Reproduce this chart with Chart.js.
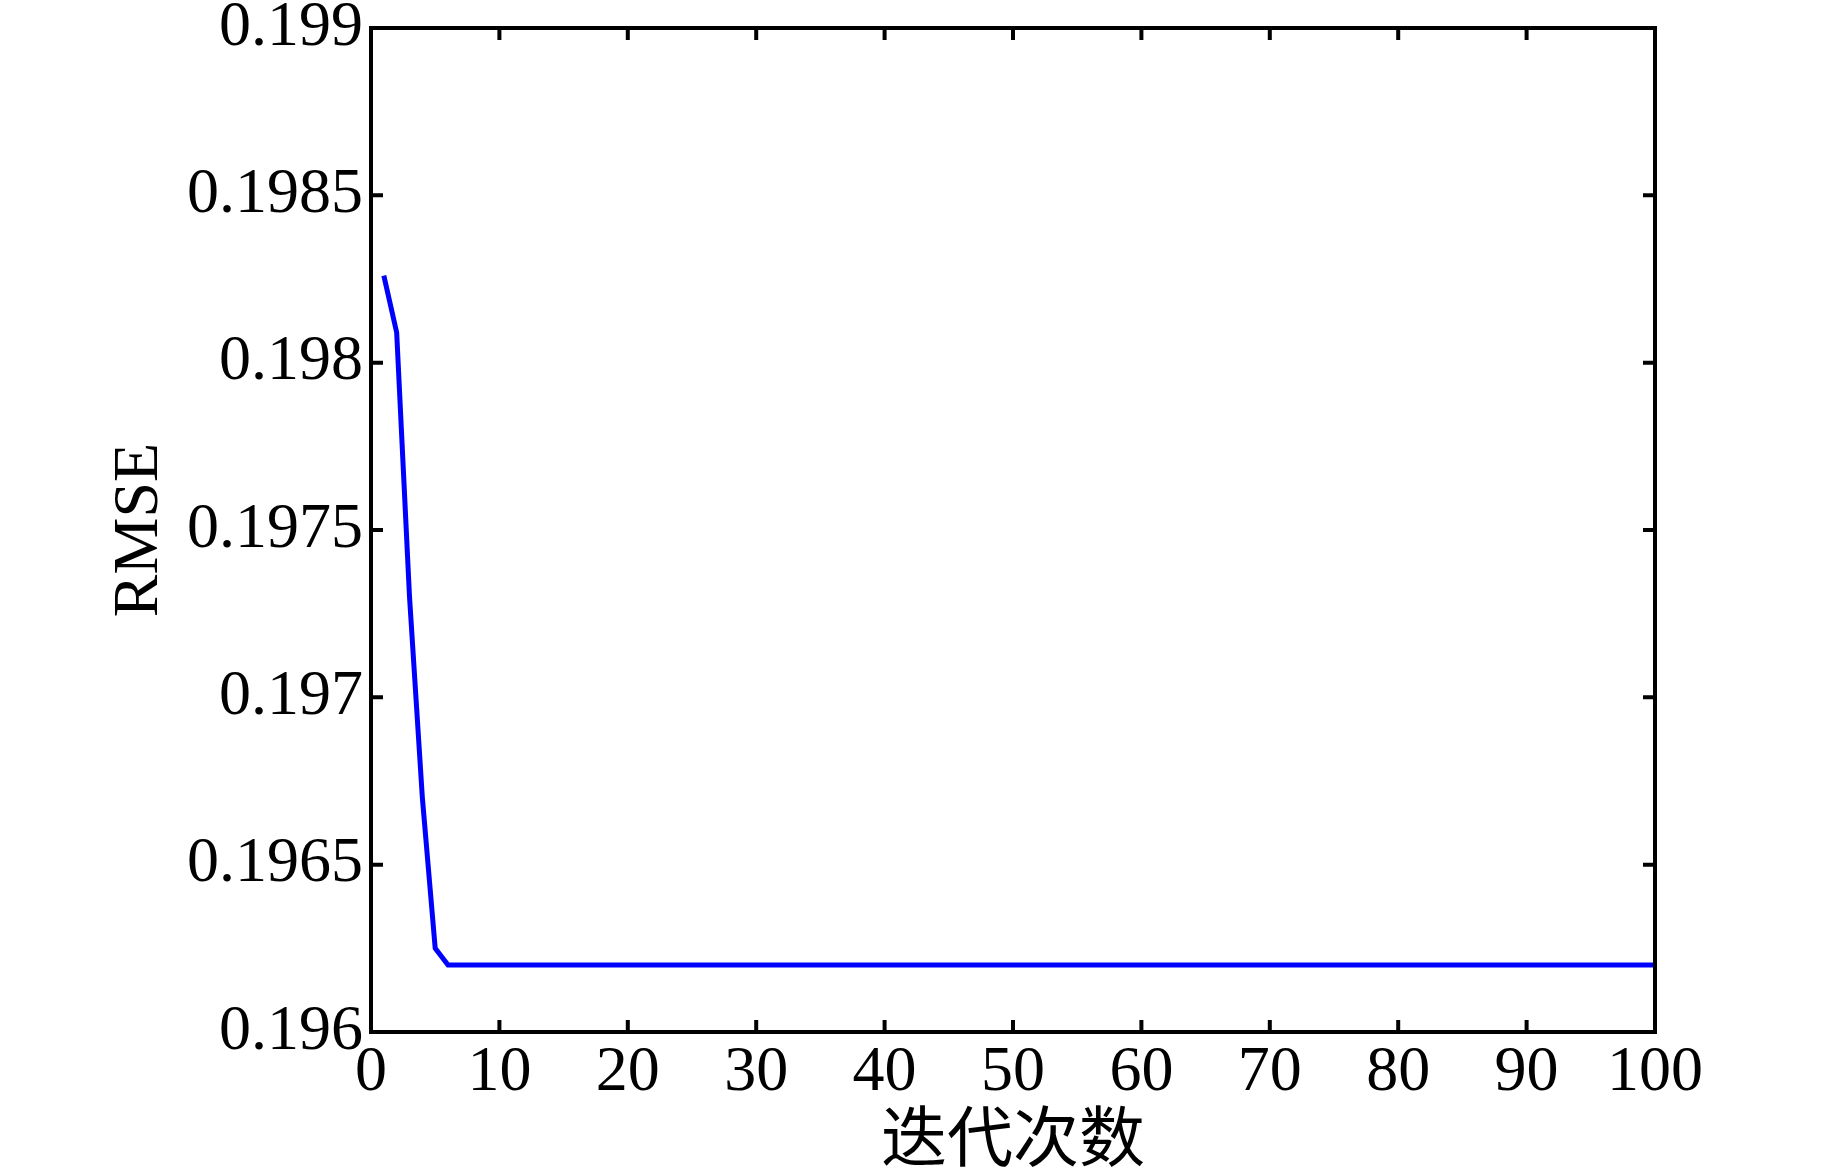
<!DOCTYPE html>
<html lang="zh">

<head>
    <meta charset="UTF-8">
    <title>RMSE 迭代曲线</title>
    <script src="https://cdn.jsdelivr.net/npm/chart.js"></script>
    <style>
        body {
            margin: 0;
            background: #fff;
        }
        #wrap {
            width: 1843px;
            height: 1168px;
        }
    </style>
</head>

<body>
    <div id="wrap">
        <canvas id="rmseChart" width="1843" height="1168"></canvas>
    </div>

    <script>
        // iteration numbers (x) and RMSE
        const iterations = [
            1, 2, 3, 4, 5, 6, 7, 8, 9, 10,
            11, 12, 13, 14, 15, 16, 17, 18, 19, 20,
            21, 22, 23, 24, 25, 26, 27, 28, 29, 30,
            31, 32, 33, 34, 35, 36, 37, 38, 39, 40,
            41, 42, 43, 44, 45, 46, 47, 48, 49, 50,
            51, 52, 53, 54, 55, 56, 57, 58, 59, 60,
            61, 62, 63, 64, 65, 66, 67, 68, 69, 70,
            71, 72, 73, 74, 75, 76, 77, 78, 79, 80,
            81, 82, 83, 84, 85, 86, 87, 88, 89, 90,
            91, 92, 93, 94, 95, 96, 97, 98, 99, 100
        ];
        const rmse = [
            0.19826, 0.19809, 0.19730, 0.19670, 0.19625, 0.19620, 0.19620, 0.19620, 0.19620, 0.19620,
            0.19620, 0.19620, 0.19620, 0.19620, 0.19620, 0.19620, 0.19620, 0.19620, 0.19620, 0.19620,
            0.19620, 0.19620, 0.19620, 0.19620, 0.19620, 0.19620, 0.19620, 0.19620, 0.19620, 0.19620,
            0.19620, 0.19620, 0.19620, 0.19620, 0.19620, 0.19620, 0.19620, 0.19620, 0.19620, 0.19620,
            0.19620, 0.19620, 0.19620, 0.19620, 0.19620, 0.19620, 0.19620, 0.19620, 0.19620, 0.19620,
            0.19620, 0.19620, 0.19620, 0.19620, 0.19620, 0.19620, 0.19620, 0.19620, 0.19620, 0.19620,
            0.19620, 0.19620, 0.19620, 0.19620, 0.19620, 0.19620, 0.19620, 0.19620, 0.19620, 0.19620,
            0.19620, 0.19620, 0.19620, 0.19620, 0.19620, 0.19620, 0.19620, 0.19620, 0.19620, 0.19620,
            0.19620, 0.19620, 0.19620, 0.19620, 0.19620, 0.19620, 0.19620, 0.19620, 0.19620, 0.19620,
            0.19620, 0.19620, 0.19620, 0.19620, 0.19620, 0.19620, 0.19620, 0.19620, 0.19620, 0.19620
        ];

        const xTicks = [0, 10, 20, 30, 40, 50, 60, 70, 80, 90, 100];
        const yTicks = [0.196, 0.1965, 0.197, 0.1975, 0.198, 0.1985, 0.199];
        const yTickLabels = ['0.196', '0.1965', '0.197', '0.1975', '0.198', '0.1985', '0.199'];

        const xTitle = '迭代次数';
        const yTitle = 'RMSE';

        const serif = "'Liberation Serif', 'Times New Roman', serif";

        // matlab style box with inward ticks on all four sides
        const boxTicks = {
            id: 'boxTicks',
            afterDraw(chart) {
                const { ctx, chartArea: a, scales: { x, y } } = chart;
                const len = 12;
                ctx.save();
                ctx.strokeStyle = '#000';
                ctx.lineWidth = 4;
                ctx.beginPath();
                x.ticks.forEach(t => {
                    const px = x.getPixelForValue(t.value);
                    ctx.moveTo(px, a.bottom);
                    ctx.lineTo(px, a.bottom - len);
                    ctx.moveTo(px, a.top);
                    ctx.lineTo(px, a.top + len);
                });
                y.ticks.forEach(t => {
                    const py = y.getPixelForValue(t.value);
                    ctx.moveTo(a.left, py);
                    ctx.lineTo(a.left + len, py);
                    ctx.moveTo(a.right, py);
                    ctx.lineTo(a.right - len, py);
                });
                ctx.stroke();
                ctx.strokeRect(a.left, a.top, a.right - a.left, a.bottom - a.top);
                ctx.restore();
            }
        };

        const chart = new Chart(document.getElementById('rmseChart'), {
            type: 'line',
            data: {
                datasets: [{
                    data: iterations.map((it, i) => ({ x: it, y: rmse[i] })),
                    borderColor: 'rgb(0, 0, 255)',
                    borderWidth: 5,
                    pointRadius: 0,
                    tension: 0,
                    fill: false
                }]
            },
            options: {
                responsive: false,
                animation: false,
                layout: {
                    padding: { top: 28, right: 188, left: 0, bottom: 0 }
                },
                plugins: {
                    legend: { display: false },
                    tooltip: { enabled: false }
                },
                scales: {
                    x: {
                        type: 'linear',
                        min: 0,
                        max: 100,
                        afterBuildTicks: s => { s.ticks = xTicks.map(v => ({ value: v })); },
                        afterFit: s => { s.height = 136; },
                        grid: { display: false, drawTicks: false },
                        border: { display: false },
                        ticks: {
                            color: '#000',
                            padding: 9,
                            maxRotation: 0,
                            font: { family: serif, size: 64, lineHeight: 1 }
                        },
                        title: {
                            display: true,
                            text: xTitle,
                            color: '#000',
                            padding: { top: 0, bottom: -9 },
                            font: { family: serif + ", 'Noto Sans CJK SC'", size: 66, lineHeight: 1 }
                        }
                    },
                    y: {
                        type: 'linear',
                        min: 0.196,
                        max: 0.199,
                        afterBuildTicks: s => { s.ticks = yTicks.map(v => ({ value: v })); },
                        afterFit: s => { s.width = 371; },
                        grid: { display: false, drawTicks: false },
                        border: { display: false },
                        ticks: {
                            color: '#000',
                            padding: 8,
                            font: { family: serif, size: 64, lineHeight: 0.3 },
                            callback: value => {
                                const i = yTicks.findIndex(v => Math.abs(v - value) < 1e-7);
                                return i >= 0 ? yTickLabels[i] : '';
                            }
                        },
                        title: {
                            display: true,
                            text: yTitle,
                            color: '#000',
                            padding: { top: 108, bottom: 0 },
                            font: { family: serif, size: 64, lineHeight: 1 }
                        }
                    }
                }
            },
            plugins: [boxTicks]
        });
    </script>
</body>

</html>
